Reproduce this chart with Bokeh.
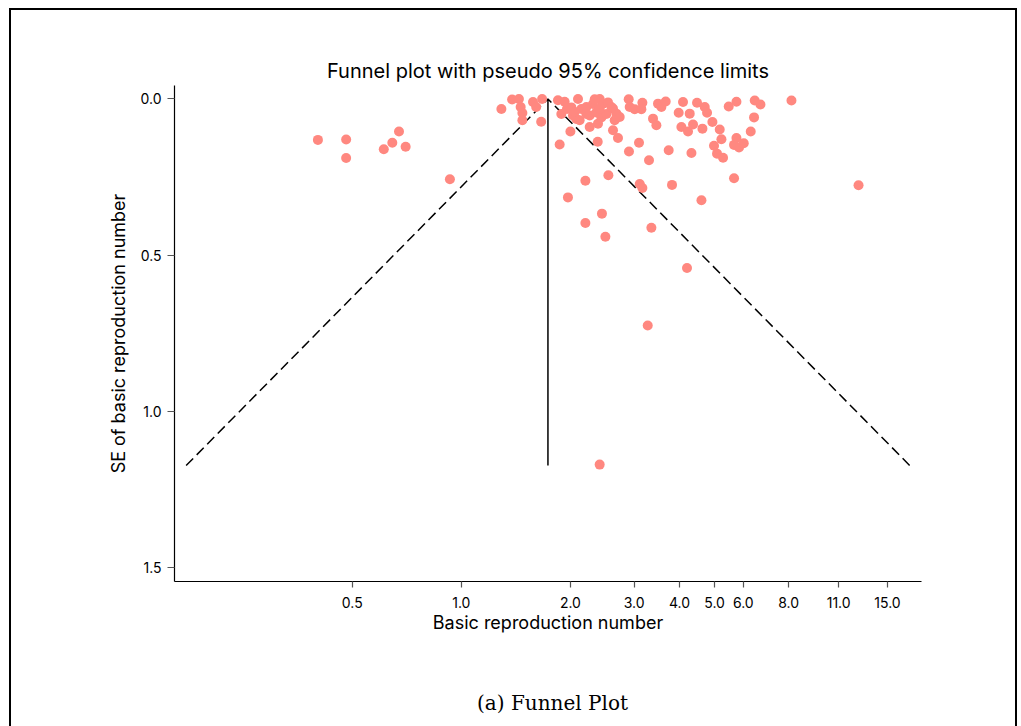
from bokeh.plotting import figure
from bokeh.models import Range1d, FixedTicker, PrintfTickFormatter, Div
from bokeh.layouts import column
from bokeh.embed import file_html
from bokeh.resources import INLINE

# ---- data ----
r0 = [0.402, 0.481, 0.481, 0.611, 0.645, 0.673, 0.702, 0.930,
      1.290, 1.381, 1.442, 1.458, 1.474, 1.474, 1.577, 1.609, 1.671, 1.661,
      1.848, 1.888, 1.868, 1.957, 2.012, 2.033, 2.077, 2.000, 2.099, 2.144,
      2.214, 2.261, 2.261, 2.309, 2.359, 2.383, 2.379, 2.409, 2.435, 2.460,
      2.514, 2.540, 2.622, 2.622, 2.679, 2.650, 2.736, 2.706, 2.897, 2.915,
      3.009, 2.902, 3.093, 3.160, 3.140, 3.381, 3.454, 3.490, 3.566, 3.665,
      3.296, 3.735, 4.091, 3.980, 4.269, 4.049, 4.223, 4.360, 4.316, 4.472,
      4.628, 4.696, 4.766, 4.931, 5.166, 5.222, 4.982, 5.078, 5.276, 5.470,
      5.745, 5.745, 5.658, 5.840, 6.018, 6.291, 6.425, 6.453, 6.691, 8.149,
      5.658, 12.48, 4.599, 3.815, 3.107, 3.160, 2.546, 2.200, 1.969, 2.200,
      2.444, 2.498, 3.346, 4.196, 3.269, 2.409,
      2.055, 2.121, 2.214, 2.409, 2.595, 1.928, 2.334]
se = [0.131, 0.130, 0.189, 0.161, 0.140, 0.104, 0.153, 0.257,
      0.032, 0.002, 0.000, 0.026, 0.045, 0.068, 0.010, 0.026, 0.000, 0.073,
      0.004, 0.048, 0.146, 0.032, 0.027, 0.053, 0.064, 0.104, 0.000, 0.032,
      0.048, 0.090, 0.053, 0.016, 0.043, 0.079, 0.137, 0.000, 0.059, 0.015,
      0.048, 0.011, 0.031, 0.100, 0.047, 0.068, 0.058, 0.125, 0.001, 0.026,
      0.033, 0.168, 0.140, 0.012, 0.033, 0.063, 0.084, 0.015, 0.026, 0.008,
      0.196, 0.164, 0.010, 0.044, 0.047, 0.090, 0.104, 0.082, 0.173, 0.012,
      0.095, 0.026, 0.044, 0.074, 0.098, 0.129, 0.150, 0.175, 0.188, 0.024,
      0.009, 0.125, 0.147, 0.155, 0.142, 0.104, 0.059, 0.005, 0.018, 0.005,
      0.254, 0.276, 0.324, 0.275, 0.272, 0.285, 0.244, 0.262, 0.315, 0.397,
      0.367, 0.441, 0.412, 0.541, 0.725, 1.170,
      0.042, 0.068, 0.026, 0.031, 0.026, 0.009, 0.001]

pooled_r0 = 1.734
se_max = 1.173
z95 = 1.96

x_ticks = [0.5, 1.0, 2.0, 3.0, 4.0, 5.0, 6.0, 8.0, 11.0, 15.0]
y_ticks = [0.0, 0.5, 1.0, 1.5]

SANS = "Inter"

import math
lo = math.exp(math.log(pooled_r0) - z95 * se_max)
hi = math.exp(math.log(pooled_r0) + z95 * se_max)

p = figure(width=1004, height=633, x_axis_type="log",
           x_range=Range1d(0.1616, 18.62), y_range=Range1d(1.544, -0.043),
           output_backend="svg", toolbar_location=None,
           min_border_left=163, min_border_right=94,
           min_border_top=75, min_border_bottom=62)
p.title.text = "Funnel plot with pseudo 95% confidence limits"
p.title.align = "center"
p.title.text_font = SANS
p.title.text_font_size = "20px"
p.title.text_font_style = "normal"
p.title.text_color = "black"
p.title.standoff = 6

p.outline_line_color = None
p.grid.grid_line_color = None
p.background_fill_color = "white"
p.border_fill_color = "white"

# funnel lines
p.line([lo, pooled_r0, hi], [se_max, 0, se_max], line_color="black",
       line_width=1.5, line_dash="10 5")
p.line([pooled_r0, pooled_r0], [0, se_max], line_color="black", line_width=1.5)

p.scatter(r0, se, size=10, fill_color="#FF8880", line_color=None)

for ax in (p.xaxis[0], p.yaxis[0]):
    ax.axis_line_color = "black"
    ax.axis_line_width = 1.2
    ax.major_tick_line_color = "#555555"
    ax.major_tick_line_width = 1.2
    ax.major_tick_in = 0
    ax.minor_tick_line_color = None
    ax.major_label_text_font = SANS
    ax.major_label_text_font_size = "14px"
    ax.major_label_text_color = "black"
    ax.axis_label_text_font = SANS
    ax.axis_label_text_font_size = "18px"
    ax.axis_label_text_font_style = "normal"
    ax.axis_label_text_color = "black"

p.xaxis.ticker = FixedTicker(ticks=x_ticks)
p.xaxis.formatter = PrintfTickFormatter(format="%.1f")
p.xaxis.major_tick_out = 6
p.xaxis.major_label_standoff = 9
p.xaxis.axis_label = "Basic reproduction number"
p.xaxis.axis_label_standoff = 1

p.yaxis.ticker = FixedTicker(ticks=y_ticks)
p.yaxis.formatter = PrintfTickFormatter(format="%.1f")
p.yaxis.major_tick_out = 7
p.yaxis.major_label_standoff = 6
p.yaxis.axis_label = "SE of basic reproduction number"
p.yaxis.axis_label_standoff = 9

caption = Div(width=1004, height=74,
              text='<div style="margin-left:163px; width:747px; text-align:center; '
                   'padding-top:43px; font-family:\'DejaVu Serif\'; font-size:20px; '
                   'line-height:24px; color:black;">(a) Funnel Plot</div>')

layout = column(p, caption, spacing=0, width=1008, sizing_mode="fixed",
                styles={"border-left": "2px solid black",
                        "border-top": "2px solid black",
                        "border-right": "2px solid black",
                        "margin-left": "9px", "margin-top": "8px",
                        "background-color": "white"})

open("out.html", "w").write(file_html(layout, INLINE))
